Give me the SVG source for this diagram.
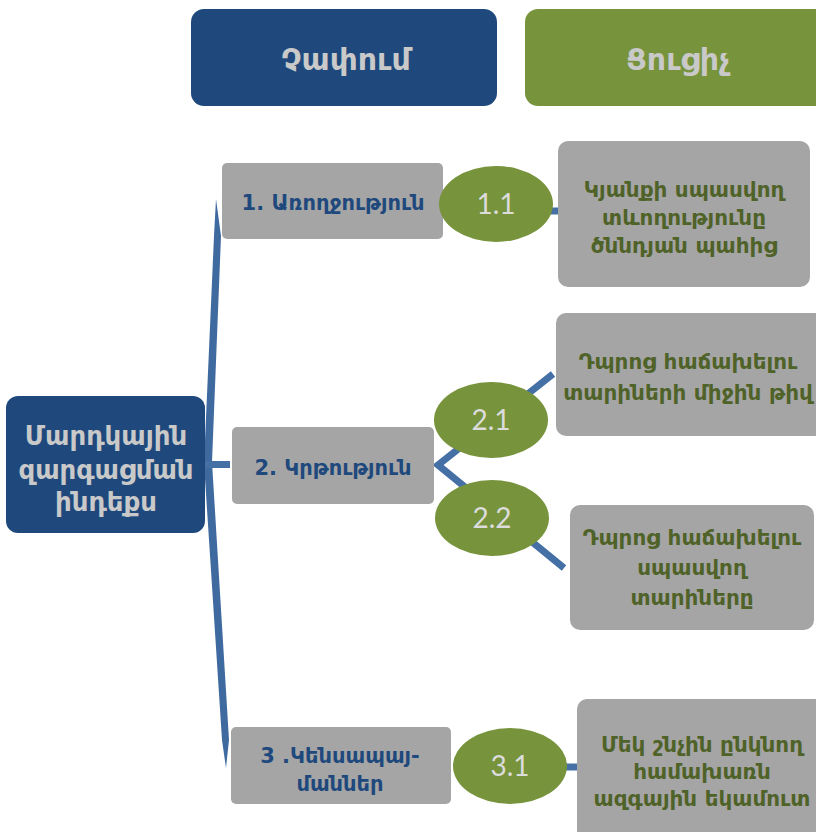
<svg xmlns="http://www.w3.org/2000/svg" width="816" height="832" viewBox="0 0 816 832">
<style>
.dark{fill:#1f497d}
.green{fill:#77933c}
.grey{fill:#a5a5a5}
.hdr{font-family:"DejaVu Sans",sans-serif;font-weight:bold;fill:#c9c9c9;text-anchor:middle}
.lvl{font-family:"DejaVu Sans",sans-serif;font-weight:bold;fill:#1f497d;text-anchor:middle;font-size:21px}
.ind{font-family:"DejaVu Sans",sans-serif;font-weight:bold;fill:#4f6228;text-anchor:middle;font-size:21.5px}
.num{font-family:Lato,"Liberation Sans",sans-serif;fill:#dcdcdc;text-anchor:middle;font-size:28px}
.conn{stroke:#4470a6;stroke-width:7;fill:none}
</style>
<rect x="0" y="0" width="816" height="832" fill="#ffffff"/>
<g id="connectors">
<path d="M216,199 L221,236 L212,462 L229,740 L226,768 L222,740 L204,463 L214,236 Z" fill="#3f6a9f"/>
<rect x="205" y="461" width="25" height="7" fill="#4470a6"/>
<polyline class="conn" points="553,374 438,465 564,568"/>
<line class="conn" x1="500" y1="211" x2="560" y2="211"/>
<line class="conn" x1="510" y1="767" x2="578" y2="767"/>
</g>
<g id="hdr-measure">
<rect class="dark" x="191" y="9" width="306" height="97" rx="13"/>
<text class="hdr" x="346" y="70" font-size="30">Չափում</text>
</g>
<g id="hdr-indicator">
<rect class="green" x="525" y="9" width="305" height="97" rx="13"/>
<text class="hdr" x="678" y="70" font-size="30">Ցուցիչ</text>
</g>
<g id="root">
<rect class="dark" x="6" y="396" width="199" height="137" rx="12"/>
<text class="hdr" font-size="26"><tspan x="106" y="445">Մարդկային</tspan><tspan x="106" y="479">զարգացման</tspan><tspan x="106" y="511">ինդեքս</tspan></text>
</g>
<g id="n1">
<rect class="grey" x="222" y="163" width="221" height="76" rx="5"/>
<text class="lvl" x="333" y="210">1. Առողջություն</text>
</g>
<g id="n2">
<rect class="grey" x="232" y="427" width="202" height="77" rx="5"/>
<text class="lvl" x="333" y="475">2. Կրթություն</text>
</g>
<g id="n3">
<rect class="grey" x="231" y="727" width="220" height="77" rx="5"/>
<text class="lvl"><tspan x="340" y="763">3 .Կենսապայ-</tspan><tspan x="340" y="791">մաններ</tspan></text>
</g>
<g id="e11">
<ellipse class="green" cx="496" cy="204" rx="57" ry="38"/>
<text class="num" x="496" y="214">1.1</text>
</g>
<g id="e21">
<ellipse class="green" cx="491" cy="420" rx="57" ry="38"/>
<text class="num" x="491" y="430">2.1</text>
</g>
<g id="e22">
<ellipse class="green" cx="492" cy="518" rx="57" ry="38"/>
<text class="num" x="492" y="528">2.2</text>
</g>
<g id="e31">
<ellipse class="green" cx="510" cy="766" rx="57" ry="38"/>
<text class="num" x="510" y="776">3.1</text>
</g>
<g id="i11">
<rect class="grey" x="558" y="141" width="252" height="146" rx="10"/>
<text class="ind"><tspan x="684" y="197">Կյանքի սպասվող</tspan><tspan x="684" y="225">տևողությունը</tspan><tspan x="684" y="253">ծննդյան պահից</tspan></text>
</g>
<g id="i21">
<rect class="grey" x="556" y="313" width="270" height="123" rx="10"/>
<text class="ind"><tspan x="688" y="369">Դպրոց հաճախելու</tspan><tspan x="688" y="400">տարիների միջին թիվ</tspan></text>
</g>
<g id="i22">
<rect class="grey" x="570" y="505" width="244" height="125" rx="10"/>
<text class="ind"><tspan x="692" y="545">Դպրոց հաճախելու</tspan><tspan x="692" y="575">սպասվող</tspan><tspan x="692" y="605">տարիները</tspan></text>
</g>
<g id="i31">
<rect class="grey" x="577" y="699" width="250" height="150" rx="10"/>
<text class="ind"><tspan x="702" y="752">Մեկ շնչին ընկնող</tspan><tspan x="702" y="779">համախառն</tspan><tspan x="702" y="806">ազգային եկամուտ</tspan></text>
</g>
</svg>
